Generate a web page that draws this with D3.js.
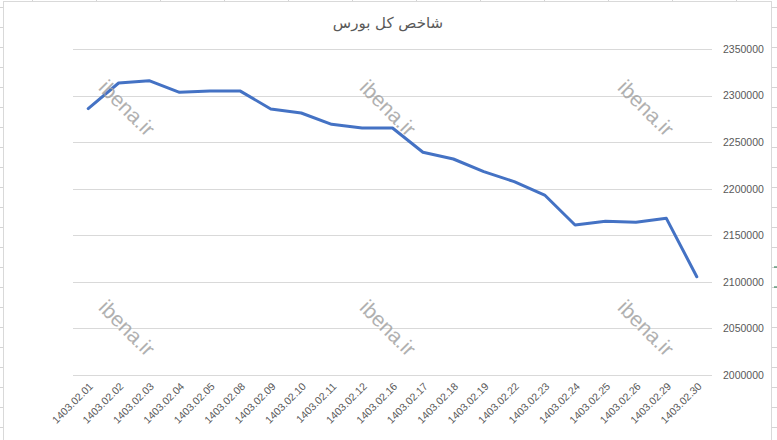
<!DOCTYPE html>
<html>
<head>
<meta charset="utf-8">
<script src="https://cdn.jsdelivr.net/npm/d3@7"></script>
<style>
  html, body { margin: 0; padding: 0; background: #fff; }
  #chart { width: 777px; height: 440px; }
</style>
</head>
<body>
<div id="chart"></div>
<script>
// dates (Solar Hijri) and index values
const dates = ["1403.02.01", "1403.02.02", "1403.02.03", "1403.02.04", "1403.02.05",
               "1403.02.08", "1403.02.09", "1403.02.10", "1403.02.11", "1403.02.12",
               "1403.02.16", "1403.02.17", "1403.02.18", "1403.02.19", "1403.02.22",
               "1403.02.23", "1403.02.24", "1403.02.25", "1403.02.26", "1403.02.29",
               "1403.02.30"];
const indexValues = [2286000, 2313500, 2316000, 2303500, 2304800,
                     2304800, 2285600, 2281300, 2269100, 2265200,
                     2265200, 2239100, 2231900, 2218300, 2207600,
                     2193200, 2161000, 2165000, 2164000, 2168200,
                     2105500];
const yTicks = [2000000, 2050000, 2100000, 2150000, 2200000, 2250000, 2300000, 2350000];
const title = "شاخص کل بورس";
const watermark = "ibena.ir";

const W = 777, H = 440;
const margin = { top: 49, right: 65, bottom: 65, left: 73 },
      width  = W - margin.left - margin.right,
      height = H - margin.top - margin.bottom;

const root = d3.select("#chart").append("svg")
    .attr("width", W)
    .attr("height", H);

// spreadsheet cells peeking around the chart
const sheet = root.append("g").attr("stroke", "#d4d4d4").attr("stroke-width", 1);
d3.range(32, W, 64).forEach(x => {
    sheet.append("line").attr("x1", x + 0.5).attr("x2", x + 0.5).attr("y1", 0).attr("y2", 1);
});
d3.range(7, H, 20).forEach(y => {
    sheet.append("line").attr("x1", 0).attr("x2", 3).attr("y1", y + 0.5).attr("y2", y + 0.5);
    sheet.append("line").attr("x1", 772).attr("x2", W).attr("y1", y + 0.5).attr("y2", y + 0.5);
});
root.append("rect")
    .attr("x", 3.5).attr("y", 1.5)
    .attr("width", 768).attr("height", H)
    .attr("fill", "#fff")
    .attr("stroke", "#d9d9d9");
// selected cell marker on the right edge
[267, 287].forEach(y => {
    root.append("line").attr("x1", 774).attr("x2", 777)
        .attr("y1", y).attr("y2", y)
        .attr("stroke", "#217346").attr("stroke-width", 1);
});

const svg = root.append("g")
    .attr("transform", `translate(${margin.left},${margin.top})`);

const x = d3.scalePoint().domain(dates).range([0, width]).padding(0.5);
const y = d3.scaleLinear().domain([2000000, 2350000]).range([height, 0]);

// title
root.append("text")
    .attr("x", 388)
    .attr("y", 28)
    .attr("text-anchor", "middle")
    .attr("direction", "rtl")
    .style("font-family", "'DejaVu Sans', sans-serif")
    .style("font-size", "15px")
    .style("fill", "#595959")
    .text(title);

// gridlines
svg.append("g")
    .selectAll("line")
    .data(yTicks)
    .enter().append("line")
    .attr("x1", 0)
    .attr("x2", width)
    .attr("y1", d => Math.round(y(d)) + 0.5)
    .attr("y2", d => Math.round(y(d)) + 0.5)
    .attr("stroke", "#d9d9d9")
    .attr("stroke-width", 1);

// right-hand value axis
const yAxis = svg.append("g")
    .attr("transform", `translate(${width},0)`)
    .call(d3.axisRight(y).tickValues(yTicks).tickSize(0).tickPadding(11).tickFormat(d3.format("d")));
yAxis.select(".domain").remove();
yAxis.selectAll("text")
    .style("font-family", "'Liberation Sans', Arial, sans-serif")
    .style("font-size", "10.5px")
    .style("fill", "#595959");

// bottom category axis, labels at 45 degrees
const xAxis = svg.append("g")
    .attr("transform", `translate(0,${height})`)
    .call(d3.axisBottom(x).tickSize(0).tickPadding(0));
xAxis.select(".domain").remove();
xAxis.selectAll("text")
    .style("font-family", "'Liberation Sans', Arial, sans-serif")
    .style("font-size", "10.5px")
    .style("fill", "#595959")
    .style("text-anchor", "end")
    .attr("dx", 0)
    .attr("dy", 0)
    .attr("transform", "translate(5,12) rotate(-45)");

// watermarks
const wmX = [127, 388, 646], wmY = [108, 328];
wmY.forEach(wy => wmX.forEach(wx => {
    root.append("text")
        .attr("transform", `translate(${wx},${wy}) rotate(45)`)
        .attr("text-anchor", "middle")
        .attr("dy", "0.35em")
        .style("font-family", "'Liberation Sans', Arial, sans-serif")
        .style("font-size", "21px")
        .style("fill", "#a3a3a3")
        .style("opacity", 0.85)
        .text(watermark);
}));

// index line
const line = d3.line()
    .x((d, i) => x(dates[i]))
    .y(d => y(d));

svg.append("path")
    .datum(indexValues)
    .attr("fill", "none")
    .attr("stroke", "#4472C4")
    .attr("stroke-width", 3)
    .attr("stroke-linejoin", "round")
    .attr("stroke-linecap", "round")
    .attr("d", line);
</script>
</body>
</html>
